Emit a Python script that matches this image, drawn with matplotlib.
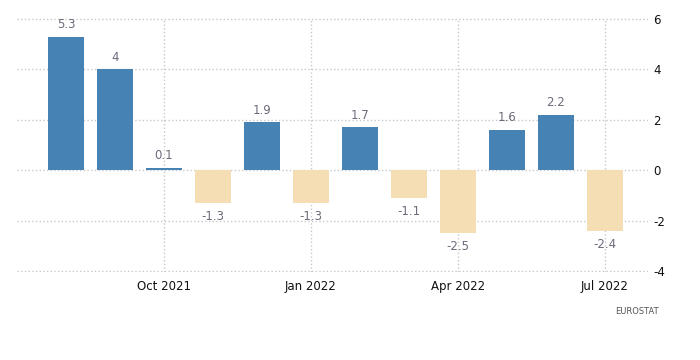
import matplotlib.pyplot as plt

months = ["Aug 2021", "Sep 2021", "Oct 2021", "Nov 2021", "Dec 2021", "Jan 2022",
          "Feb 2022", "Mar 2022", "Apr 2022", "May 2022", "Jun 2022", "Jul 2022"]
values = [5.3, 4, 0.1, -1.3, 1.9, -1.3, 1.7, -1.1, -2.5, 1.6, 2.2, -2.4]
tick_labels = ["Oct 2021", "Jan 2022", "Apr 2022", "Jul 2022"]
y_ticks = [-4, -2, 0, 2, 4, 6]

BLUE = "#4682b4"
WHEAT = "#f5deb3"


def main():
    plt.rcParams["axes.unicode_minus"] = False
    fig = plt.figure(figsize=(7, 3.6), dpi=100)
    ax = fig.add_axes([17 / 700, 1 - 272 / 360, 631 / 700, 254 / 360])

    x = list(range(len(values)))
    colors = [BLUE if v >= 0 else WHEAT for v in values]
    ax.bar(x, values, width=0.73, color=colors, zorder=2)

    for i, v in zip(x, values):
        txt = f"{v:g}"
        if v >= 0:
            ax.annotate(txt, (i, v), xytext=(0, 4), textcoords="offset points",
                        ha="center", va="bottom", fontsize=8.5, color="#6b6b7b")
        else:
            ax.annotate(txt, (i, v), xytext=(0, -5), textcoords="offset points",
                        ha="center", va="top", fontsize=8.5, color="#6b6b7b")

    ax.set_xlim(-1.0, 11.88)
    ax.set_ylim(-4.04, 6.04)
    ax.set_xticks([months.index(t) for t in tick_labels])
    ax.set_xticklabels(tick_labels)
    ax.set_yticks(y_ticks)
    ax.yaxis.tick_right()
    ax.tick_params(axis="both", length=0, labelsize=8.5, colors="#111111")
    ax.tick_params(axis="y", pad=4)
    ax.tick_params(axis="x", pad=6)

    ax.grid(True, linestyle=":", color="#c8c8c8", linewidth=1, zorder=0)
    ax.set_axisbelow(True)
    for s in ax.spines.values():
        s.set_visible(False)

    fig.text(637 / 700, 1 - 312 / 360, "EUROSTAT", ha="center", va="center",
             fontsize=6, color="#555555")

    fig.savefig("out.png", dpi=100)


if __name__ == '__main__':
    main()
